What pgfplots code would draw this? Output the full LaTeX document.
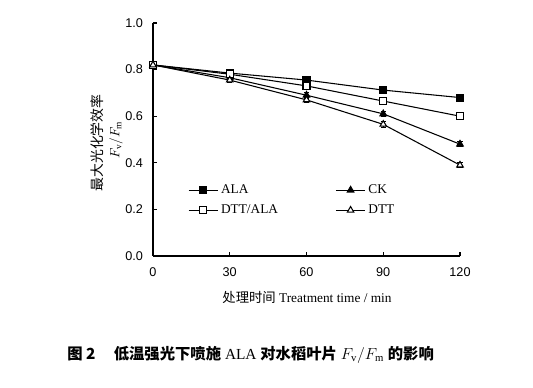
\documentclass[border=0pt]{standalone}
\usepackage{fontspec}
\usepackage{pgfplots}
\pgfplotsset{compat=1.18}
\setmainfont{Liberation Serif}
\setsansfont{Liberation Sans}
\newfontfamily\cjk{Noto Sans CJK SC}
\begin{document}
\begin{tikzpicture}[x=0.75pt,y=0.75pt]
\useasboundingbox (0,0) rectangle (533,388);
\begin{axis}[
  at={(114.75pt,99pt)}, anchor=south west,
  scale only axis, width=230.25pt, height=174.75pt,
  xmin=0, xmax=120, ymin=0, ymax=1,
  axis lines*=left,
  axis line style={line width=1pt},
  tick align=inside,
  major tick length=3pt,
  tick style={line width=0.8pt, black},
  xtick={0,30,60,90,120},
  ytick={0,0.2,0.4,0.6,0.8,1.0},
  yticklabel style={/pgf/number format/fixed,/pgf/number format/precision=1,/pgf/number format/fixed zerofill, xshift=-4pt},
  xticklabel style={yshift=-5pt},
  ticklabel style={font=\sffamily\fontsize{9.5}{10}\selectfont},
  /pgf/number format/assume math mode=true,
  clip=false,
  legend style={draw=none, fill=none, at={(0.1,0.33)}, anchor=north west,
    font=\fontsize{10}{12}\selectfont, row sep=3pt,
    /tikz/every even column/.style={column sep=41pt}},
  legend columns=2,
  legend cell align=left,
  legend image code/.code={\draw[mark repeat=2,mark phase=2,#1] plot coordinates {(0pt,0pt) (11pt,0pt) (22pt,0pt)};},
  error bars/error bar style={line width=0.7pt, black},
  error bars/error mark options={rotate=90, mark size=2pt, line width=0.7pt, black},
]
\addplot[black, line width=0.8pt, mark=square*, mark size=2.6pt, mark options={solid, draw=black, fill=black}, error bars/.cd, y dir=both, y explicit]
  coordinates {(0,0.82) +- (0,0.01) (30,0.785) +- (0,0.01) (60,0.755) +- (0,0.012) (90,0.712) +- (0,0.015) (120,0.68) +- (0,0.015)};
\addlegendentry{ALA}
\addplot[black, line width=0.8pt, mark=triangle*, mark size=2.8pt, mark options={solid, draw=black, fill=black}, error bars/.cd, y dir=both, y explicit]
  coordinates {(0,0.82) +- (0,0.01) (30,0.765) +- (0,0.01) (60,0.69) +- (0,0.012) (90,0.61) +- (0,0.01) (120,0.48) +- (0,0.01)};
\addlegendentry{CK}
\addplot[black, line width=0.8pt, mark=square*, mark size=2.6pt, mark options={solid, draw=black, fill=white}, error bars/.cd, y dir=both, y explicit]
  coordinates {(0,0.82) +- (0,0.01) (30,0.78) +- (0,0.01) (60,0.73) +- (0,0.012) (90,0.665) +- (0,0.01) (120,0.60) +- (0,0.01)};
\addlegendentry{DTT/ALA}
\addplot[black, line width=0.8pt, mark=triangle*, mark size=2.8pt, mark options={solid, draw=black, fill=white}, error bars/.cd, y dir=both, y explicit]
  coordinates {(0,0.82) +- (0,0.01) (30,0.755) +- (0,0.01) (60,0.67) +- (0,0.012) (90,0.565) +- (0,0.012) (120,0.39) +- (0,0.01)};
\addlegendentry{DTT}
\end{axis}
\node[rotate=90, font=\cjk\fontsize{10.4}{12}\selectfont] at (97,245) {最大光化学效率};
\node[rotate=90, font=\fontsize{10}{12}\selectfont] at (116,248) {$F_{\mathrm{v}}/F_{\mathrm{m}}$};
\node[font=\fontsize{10}{12}\selectfont] at (307,91) {{\cjk 处理时间} Treatment time / min};
\node[anchor=west, font=\fontsize{11.5}{13}\selectfont, inner sep=0pt] at (67,33) {{\cjk\bfseries 图 2}\hspace{1.2em}{\cjk\bfseries 低温强光下喷施} ALA {\cjk\bfseries 对水稻叶片} $F_{\mathrm{v}}/F_{\mathrm{m}}$ {\cjk\bfseries 的影响}};
\end{tikzpicture}
\end{document}
